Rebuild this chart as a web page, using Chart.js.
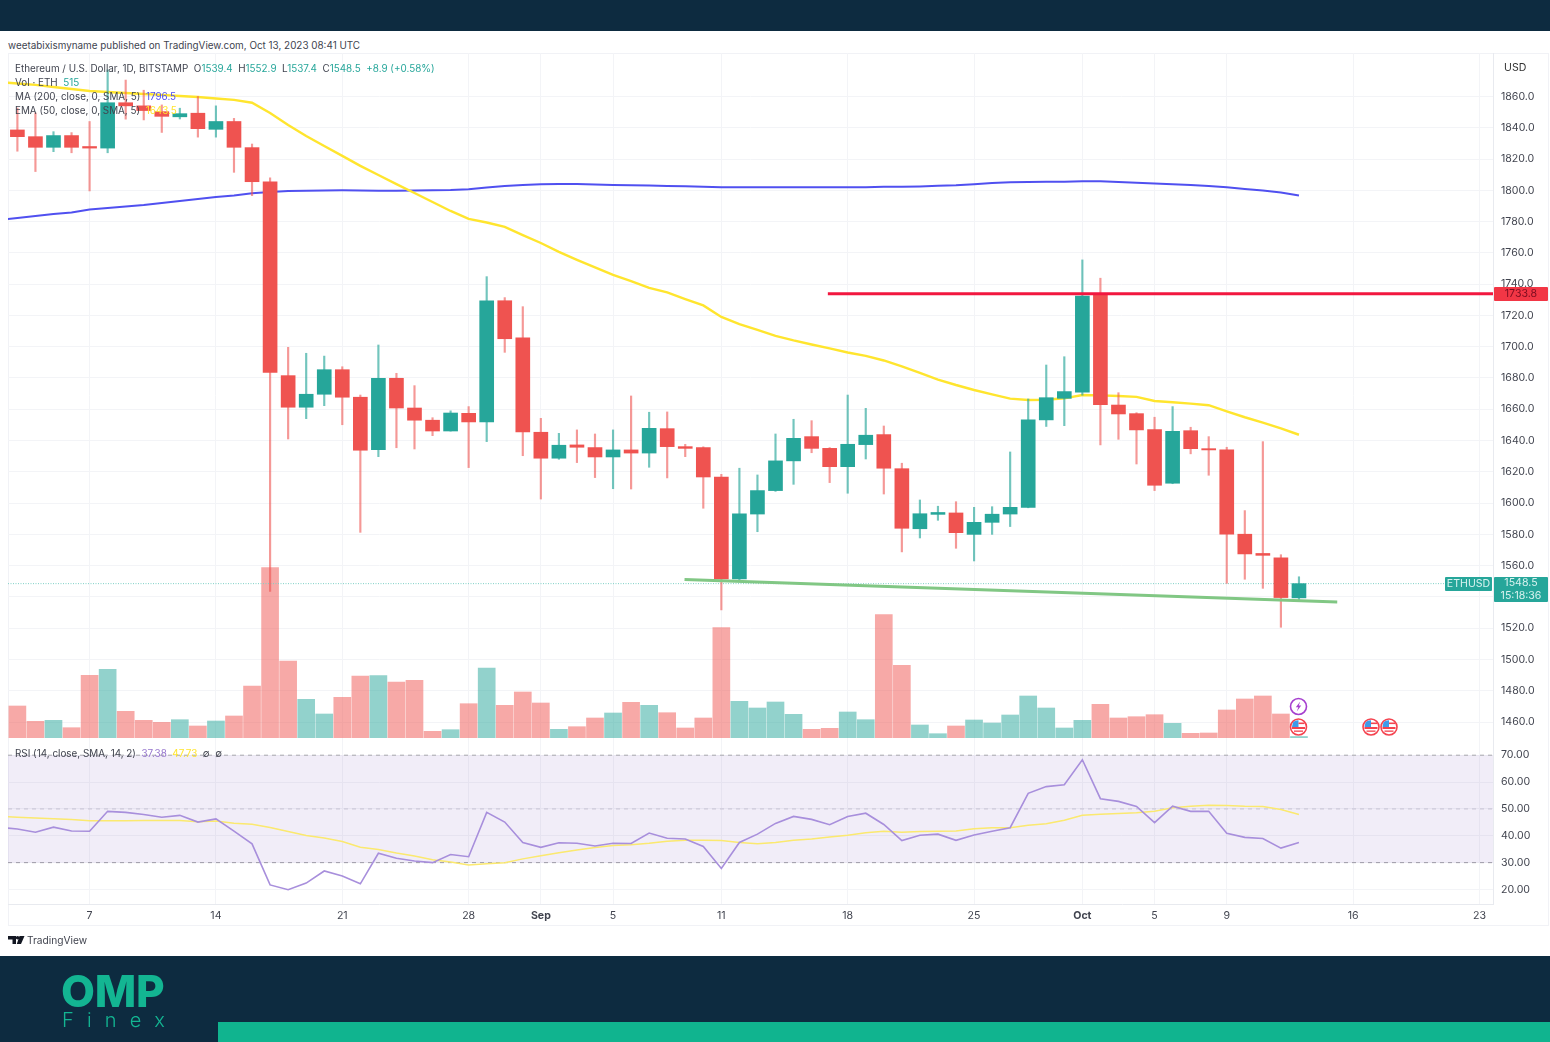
<!DOCTYPE html>
<html>
<head>
<meta charset="utf-8">
<title>ETHUSD 1D</title>
<script src="https://cdn.jsdelivr.net/npm/chart.js@4.4.1/dist/chart.umd.min.js"></script>
<style>
    html, body { margin: 0; padding: 0; background: #fff; }
    body { position: relative; width: 1550px; height: 1042px; overflow: hidden; font-family: Inter, sans-serif; color: #3a3e4a; }
    canvas { position: absolute; left: 0; }
    .abs { position: absolute; white-space: nowrap; }
    #topBar { left: 0; top: 0; width: 1550px; height: 31px; background: #0d2b40; }
    #bottomBar { left: 0; top: 956px; width: 1550px; height: 86px; background: #0d2b40; }
    #bottomGreen { left: 218px; top: 1022px; width: 1332px; height: 20px; background: #10b48f; }
    #frame { left: 8px; top: 53px; width: 1541px; height: 873px; border: 1px solid #f1f2f6; box-sizing: border-box; }
    .legend { font-size: 9.9px; line-height: 14px; left: 15px; color: #41444f; }
    .legend b { font-weight: 400; color: #26a69a; }
    .tag { font-size: 10.6px; text-align: center; border-radius: 1px; }
</style>
</head>
<body>
<div class="abs" id="frame"></div>

<canvas id="priceChart" style="top:53px"></canvas>
<canvas id="rsiChart" style="top:738px"></canvas>

<div class="abs" id="topBar"></div>
<div class="abs" id="bottomBar"></div>
<div class="abs" id="bottomGreen"></div>

<div class="abs" style="left:8px;top:38px;font-size:9.9px;line-height:14px;color:#41444f">weetabixismyname published on TradingView.com, Oct 13, 2023 08:41 UTC</div>

<div class="abs legend" style="top:61px">Ethereum / U.S. Dollar, 1D, BITSTAMP &nbsp;O<b>1539.4</b> &nbsp;H<b>1552.9</b> &nbsp;L<b>1537.4</b> &nbsp;C<b>1548.5</b> &nbsp;<b>+8.9 (+0.58%)</b></div>
<div class="abs legend" style="top:75px">Vol · ETH &nbsp;<b>515</b></div>
<div class="abs legend" style="top:89px">MA (200, close, 0, SMA, 5) &nbsp;<span style="color:#5050f0">1796.5</span></div>
<div class="abs legend" style="top:103px">EMA (50, close, 0, SMA, 5) &nbsp;<span style="color:#ffe52e">1643.5</span></div>
<div class="abs legend" style="top:746px">RSI (14, close, SMA, 14, 2) &nbsp;<span style="color:#9575cd">37.38</span> &nbsp;<span style="color:#ffe52e">47.73</span> &nbsp;∅ &nbsp;∅</div>

<div class="abs" style="left:1504px;top:61px;font-size:10.6px;line-height:14px;color:#333">USD</div>

<div class="abs tag" style="left:1494px;top:287px;width:54px;height:14px;line-height:14px;background:#f23645;color:#7d0d20">1733.8</div>
<div class="abs tag" style="left:1445px;top:577px;width:47px;height:14px;line-height:14px;background:#26a69a;color:#d8f2ef">ETHUSD</div>
<div class="abs tag" style="left:1494px;top:577px;width:54px;height:25px;line-height:12.5px;background:#26a69a;color:#d8f2ef">1548.5<br>15:18:36</div>

<!-- event markers -->
<svg class="abs" style="left:0;top:0" width="1550" height="1042" viewBox="0 0 1550 1042">
    <defs>
        <g id="usFlag">
            <circle r="8" fill="#fff" stroke="#f4434f" stroke-width="1.6"/>
            <path d="M-5.6 -4.5 A7 7 0 0 1 0 -6.8 L0 0 L-6.5 0 Z" fill="#3d9be9"/>
            <rect x="0" y="-4.5" width="6" height="1.6" fill="#f4434f"/>
            <rect x="-6.5" y="0" width="13" height="2" fill="#f4434f"/>
            <rect x="-4.5" y="3.5" width="9" height="1.3" fill="#f4434f"/>
        </g>
    </defs>
    <circle cx="1298.5" cy="706.5" r="8" fill="#fff" stroke="#a640cf" stroke-width="1.6"/>
    <path d="M1300.2 701.5 L1295.8 707.3 L1298.3 707.3 L1296.8 711.5 L1301.2 705.6 L1298.8 705.6 Z" fill="#a640cf"/>
    <use href="#usFlag" x="1298.5" y="727"/>
    <use href="#usFlag" x="1371" y="727"/>
    <use href="#usFlag" x="1389" y="727"/>
    <!-- TradingView mark -->
    <path d="M8 936 H16 V944 H12.5 V939.4 H8 Z M19.5 936 H24.5 L21 944 H16.8 Z" fill="#131722"/>
    <circle cx="17.6" cy="937.8" r="1.8" fill="#131722"/>
</svg>
<div class="abs" style="left:27px;top:933px;font-size:10.2px;line-height:14px;color:#41444f">TradingView</div>

<!-- OMP Finex logo -->
<div class="abs" style="left:61px;top:966px;font-size:44px;line-height:50px;font-weight:800;color:#13b592;letter-spacing:-0.3px">OMP</div>
<div class="abs" style="left:62px;top:1008px;font-size:20px;line-height:24px;font-weight:300;color:#13b592;letter-spacing:13.2px">Finex</div>

<script>
/* ── Dates and axis labels ─────────────────────────────── */
const dates = [
    'Aug 3','Aug 4','Aug 5','Aug 6','Aug 7','Aug 8','Aug 9','Aug 10','Aug 11','Aug 12',
    'Aug 13','Aug 14','Aug 15','Aug 16','Aug 17','Aug 18','Aug 19','Aug 20','Aug 21','Aug 22',
    'Aug 23','Aug 24','Aug 25','Aug 26','Aug 27','Aug 28','Aug 29','Aug 30','Aug 31','Sep 1',
    'Sep 2','Sep 3','Sep 4','Sep 5','Sep 6','Sep 7','Sep 8','Sep 9','Sep 10','Sep 11',
    'Sep 12','Sep 13','Sep 14','Sep 15','Sep 16','Sep 17','Sep 18','Sep 19','Sep 20','Sep 21',
    'Sep 22','Sep 23','Sep 24','Sep 25','Sep 26','Sep 27','Sep 28','Sep 29','Sep 30','Oct 1',
    'Oct 2','Oct 3','Oct 4','Oct 5','Oct 6','Oct 7','Oct 8','Oct 9','Oct 10','Oct 11','Oct 12','Oct 13',
];
const tickDays   = [4, 11, 18, 25, 29, 33, 39, 46, 53, 59, 63, 67, 74, 81];
const tickLabels = ['7', '14', '21', '28', 'Sep', '5', '11', '18', '25', 'Oct', '5', '9', '16', '23'];
const priceTicks = [1460, 1480, 1500, 1520, 1540, 1560, 1580, 1600, 1620, 1640, 1660, 1680, 1700, 1720, 1740, 1760, 1780, 1800, 1820, 1840, 1860];
const rsiTicks   = [20, 30, 40, 50, 60, 70];

/* ── Candles ───────────────────────────────────────────── */
const opens = [
    1838.6,1834.3,1827.5,1835,1828,1827,1856,1854,1850.3,1847,
    1849.3,1839,1844,1827.3,1805.5,1681.5,1661.3,1669.6,1685.3,1667.7,
    1634.2,1679.8,1660.8,1653,1646.1,1657.4,1651.9,1729.4,1705.6,1645.3,
    1628.7,1637.2,1635.5,1629.5,1634,1632,1647.6,1636.1,1635.5,1616.7,
    1551.5,1593,1608,1627,1642.5,1635,1623.3,1637.4,1643.8,1622,
    1583.6,1592.8,1593.7,1580,1587.7,1593,1597.3,1653.2,1667,1671,
    1734,1662.7,1657.2,1647,1612.7,1646.3,1634.8,1634,1580.1,1567.8,1565,1539.4,
];
const highs = [
    1852.6,1849.5,1837.5,1836.9,1844,1877,1870.5,1864,1854.6,1852.5,
    1860,1854,1846,1829.6,1808,1699.6,1695.8,1694,1687.2,1669.1,
    1701.1,1683,1675.1,1654.6,1659,1661.7,1744.8,1731.4,1725.6,1654.2,
    1644.6,1646.8,1644.2,1646.8,1668.5,1658.1,1658.3,1637.6,1636,1618.4,
    1622.3,1618,1644.2,1653.6,1652.7,1635.5,1669.1,1660.6,1649.3,1625.5,
    1602,1598,1600.9,1597.3,1597.7,1632.7,1666.6,1688.3,1693.6,1755.5,
    1743.8,1670.6,1657.8,1654.9,1661.7,1648.5,1642.5,1635.7,1595.2,1639.3,1567,1552.9,
];
const lows = [
    1825,1812,1824.7,1824,1799.6,1824,1845.5,1845,1837,1845.6,
    1834,1834,1811.5,1796.6,1543.5,1641,1654,1662.3,1650.1,1581.3,
    1629.7,1635.4,1634.6,1643.1,1646,1622.7,1639.3,1696.4,1630.3,1602.6,
    1628,1625.9,1616.3,1609.2,1609,1622.9,1616.1,1629.7,1596.7,1531.7,
    1551,1581.7,1607.5,1612,1632.2,1613.1,1606.3,1628.2,1605.8,1568.8,
    1577.7,1589,1571.1,1563,1580,1585,1597,1649,1649.5,1669,
    1637.2,1640.8,1625,1608,1612.4,1631.5,1617.8,1548.7,1551.3,1545.5,1520.6,1537.4,
];
const closes = [
    1834.3,1827.5,1835,1827.5,1827,1856,1854,1851,1847.3,1849,
    1839.4,1844,1827.5,1805.5,1683.6,1661.3,1669.6,1685.3,1667.7,1633.8,
    1679.8,1660.8,1653,1646.1,1657.6,1651.9,1729.4,1705.1,1645.5,1628.7,
    1637,1635.7,1629.5,1634,1632,1647.8,1636.1,1635,1616.7,1551.5,
    1593.2,1608,1627,1641.4,1635,1623.3,1637.6,1643.4,1622.3,1583.9,
    1593.2,1594,1581.1,1587.7,1592.9,1597.3,1653.2,1667.4,1671.3,1732.4,
    1663,1657,1646.8,1611.4,1645.9,1634.8,1634,1580.1,1567.5,1566.6,1539.6,1548.5,
];

/* Volume, relative height of each bar */
const volumes = [
    32,16.7,17.7,10.3,62.7,68.7,26.7,17.7,15.7,18.3,
    12,17,22,52,170.3,77,38.7,24,40.7,62,
    62.3,56,57.7,6.7,8.3,34.3,70,32.7,46,35,
    8.7,11.3,20,25,35.7,32.7,25.3,10,20,110.3,
    36.7,30,36,23.7,8.7,9.7,26,18.3,123.3,72.7,
    13,4.3,12,18,15,23,42,30,10,17.7,
    33.7,20,21.3,23.3,14.7,4.7,5,28,39,42,24,1.5,
];

/* ── Moving averages, first value is the day before the first candle ── */
const ma200 = [
    1781,1782.3,1783.6,1784.9,1785.8,1787.7,1788.7,1789.7,1790.6,1791.9,1793.2,
    1794.5,1795.7,1796.7,1798.1,1798.9,1799.6,1799.8,1799.9,1800,1799.9,
    1799.8,1799.8,1799.9,1800,1800.2,1800.7,1801.8,1802.8,1803.4,1803.9,
    1804,1804,1803.7,1803.4,1803.2,1803.1,1802.8,1802.6,1802.3,1802,
    1802,1801.9,1801.9,1802,1802,1802,1802,1802,1802.2,1802.3,
    1802.5,1802.9,1803.2,1803.9,1804.7,1805.1,1805.3,1805.5,1805.5,1805.8,
    1805.8,1805.3,1804.8,1804.4,1803.9,1803.4,1802.8,1802,1800.9,1799.9,1798.6,1796.7,
];
const ema50 = [
    1869.3,1868.3,1867.4,1866.1,1864.8,1863.5,1862.9,1862.2,1861.6,1861,1860.3,
    1859.7,1858.7,1857.8,1856,1849.4,1841.8,1834.7,1828.3,1822,1815.6,
    1809.8,1804,1798.3,1792.5,1786.8,1781.7,1779.4,1776.6,1771.4,1766.3,
    1760.6,1755.5,1750.7,1745.9,1742,1737.6,1734.7,1730.5,1726.4,1719,
    1714.5,1710.7,1706.9,1704,1701.4,1698.9,1696.3,1694.1,1691.2,1687.4,
    1683.2,1679,1675.5,1672.3,1669.5,1666.8,1665.9,1666.1,1667,1669.1,
    1668.9,1668.5,1667.9,1665.3,1664.5,1663.6,1662.6,1658.7,1654.9,1651.4,1647.8,1643.7,
];

/* ── RSI pane ──────────────────────────────────────────── */
const rsi = [
    43.2,42.5,41.3,43.2,41.8,41.7,49.1,48.7,47.9,46.9,47.6,
    45.1,46.3,41.7,37,21.7,19.9,22.4,26.9,25,22.1,
    33.5,31.6,30.6,30,33,32.2,48.7,45.1,37.5,35.7,
    37.4,37.2,36.2,37.2,37.1,41,39.1,38.8,36,27.8,
    37.5,40.6,44.6,47.2,46.1,44.1,47.2,48.4,44.2,38.2,
    40.2,40.6,38.3,40.3,41.7,43,55.8,58.3,59,68.3,
    53.8,52.8,50.9,44.9,51,49.1,49.1,40.9,39.4,39,35.4,37.5,
];
const rsiSma = [
    47.3,46.9,46.6,46.3,46.1,45.6,45.6,45.6,45.7,45.7,45.7,
    45.2,45.5,44.7,44.3,43.1,41.6,40.1,39.2,37.9,35.7,
    34.9,33.6,32.5,31.1,30.2,29.1,29.6,30,31.4,32.6,
    33.7,34.7,35.6,36.4,36.7,37.2,38,38.3,38.3,38.2,
    37.5,37,37.5,38.3,38.8,39.5,40.2,41.1,41.7,41.3,
    41.6,41.7,41.8,42.6,43,43,43.9,44.5,45.75,47.6,
    48,48.25,48.6,49.1,50.4,51,51.4,51.25,51,50.9,49.75,47.9,
];

/* ── Drawn trend lines and levels ──────────────────────── */
const resistanceDays   = [44.9, 81.75];
const resistancePrices = [1733.8, 1733.8];
const supportDays      = [36.96, 73.12];
const supportPrices    = [1551.2, 1536.8];
const lastPrice        = 1548.5;

/* ── Shared defaults ───────────────────────────────────── */
const UP        = '#26a69a';
const DOWN      = '#ef5350';
const X_MIN     = -0.52;
const X_MAX     = 81.75;
const AXIS_LINE = '#e8eaef';
const GRID      = '#f3f4f7';
const TICK_FONT = { family: 'Inter', size: 10.6 };

const xy = (xs, ys) => xs.map((x, i) => ({ x, y: ys[i] }));
const fromDayBefore = ys => ys.map((y, i) => ({ x: i - 1, y }));
const isUp = dates.map((d, i) => closes[i] >= opens[i]);
const span = [X_MIN, X_MAX];

Chart.defaults.animation = false;
Chart.defaults.responsive = false;
Chart.defaults.devicePixelRatio = 1;

function xAxis(showLabels) {
    return {
        type : 'linear',
        min  : X_MIN,
        max  : X_MAX,
        offset : false,
        afterBuildTicks : s => { s.ticks = tickDays.map(v => ({ value: v })); },
        afterFit : s => {
            s.height = showLabels ? 22 : 0;
            s.paddingLeft = s.paddingRight = 0;
        },
        grid   : { color: GRID, drawTicks: false, offset: false },
        border : { color: AXIS_LINE },
        ticks  : {
            display     : showLabels,
            autoSkip    : false,
            maxRotation : 0,
            padding     : 5,
            color       : '#41444f',
            font        : ctx => ({ ...TICK_FONT, weight: ['Sep', 'Oct'].includes(tickLabels[ctx.index]) ? 700 : 400 }),
            callback    : v => tickLabels[tickDays.indexOf(v)],
        },
    };
}

function yAxis(min, max, ticks, digits) {
    return {
        position : 'right',
        min, max,
        afterBuildTicks : s => { s.ticks = ticks.map(v => ({ value: v })); },
        afterFit : s => {
            s.width = 57;
            s.paddingTop = s.paddingBottom = 0;
        },
        grid   : { color: GRID, drawTicks: false },
        border : { color: AXIS_LINE },
        ticks  : {
            padding  : 8,
            color    : '#41444f',
            font     : TICK_FONT,
            callback : v => v.toFixed(digits),
        },
    };
}

const PLUGINS = { legend: { display: false }, tooltip: { enabled: false } };

/* ── Price pane: volume, averages, candles, trend lines ── */
const priceEl = document.getElementById('priceChart');
priceEl.width  = 1550;
priceEl.height = 685;

new Chart(priceEl, {
    data : {
        datasets : [
            {
                type            : 'bar',
                yAxisID         : 'yVol',
                grouped         : false,
                order           : 9,
                barThickness    : 17,
                data            : xy(dates.map((d, i) => i), volumes),
                backgroundColor : isUp.map(u => u ? 'rgba(38,166,154,0.5)' : 'rgba(239,83,80,0.5)'),
            },
            {
                type        : 'line',
                order       : 8,
                data        : xy(span, [lastPrice, lastPrice]),
                borderColor : '#7fd0c6',
                borderWidth : 1,
                borderDash  : [1, 1.5],
                pointRadius : 0,
            },
            {
                type        : 'line',
                order       : 7,
                data        : fromDayBefore(ma200),
                borderColor : '#5050f0',
                borderWidth : 2,
                pointRadius : 0,
            },
            {
                type        : 'line',
                order       : 6,
                data        : fromDayBefore(ema50),
                borderColor : '#ffe52e',
                borderWidth : 2.4,
                pointRadius : 0,
            },
            {
                type            : 'bar',
                grouped         : false,
                order           : 5,
                barThickness    : 1.5,
                data            : dates.map((d, i) => ({ x: i, y: [lows[i], highs[i]] })),
                backgroundColor : isUp.map(u => u ? 'rgba(38,166,154,0.65)' : 'rgba(239,83,80,0.6)'),
            },
            {
                type            : 'bar',
                grouped         : false,
                order           : 4,
                barThickness    : 14,
                data            : dates.map((d, i) => ({ x: i, y: [opens[i], closes[i]] })),
                backgroundColor : isUp.map(u => u ? UP : DOWN),
            },
            {
                type        : 'line',
                order       : 2,
                data        : xy(supportDays, supportPrices),
                borderColor : '#81c784',
                borderWidth : 3,
                pointRadius : 0,
            },
            {
                type        : 'line',
                order       : 1,
                data        : xy(resistanceDays, resistancePrices),
                borderColor : '#f2173f',
                borderWidth : 3,
                pointRadius : 0,
            },
        ],
    },
    options : {
        parsing : true,
        layout  : { padding: { left: 8, right: 0, top: 0, bottom: 0 } },
        plugins : PLUGINS,
        scales  : {
            x    : xAxis(false),
            y    : yAxis(1449.8, 1887.8, priceTicks, 1),
            yVol : { display: false, min: 0, max: 685 },
        },
    },
});

/* ── RSI pane ──────────────────────────────────────────── */
const rsiEl = document.getElementById('rsiChart');
rsiEl.width  = 1550;
rsiEl.height = 188;

const bandLevel = (level, color, fill) => ({
    type        : 'line',
    order       : 5,
    data        : xy(span, [level, level]),
    borderColor : color,
    borderWidth : 1,
    borderDash  : [4, 4],
    pointRadius : 0,
    fill,
    backgroundColor : 'rgba(126,87,194,0.11)',
});

new Chart(rsiEl, {
    data : {
        datasets : [
            bandLevel(70, '#a9a9ad', '+1'),
            bandLevel(30, '#a0a0a5', false),
            bandLevel(50, '#cfcfd4', false),
            {
                type        : 'line',
                order       : 2,
                data        : fromDayBefore(rsiSma),
                borderColor : '#fbe96f',
                borderWidth : 1.5,
                pointRadius : 0,
            },
            {
                type        : 'line',
                order       : 1,
                data        : fromDayBefore(rsi),
                borderColor : '#a88fdc',
                borderWidth : 1.6,
                pointRadius : 0,
            },
        ],
    },
    options : {
        layout  : { padding: { left: 8, right: 0, top: 0, bottom: 0 } },
        plugins : PLUGINS,
        scales  : {
            x : xAxis(true),
            y : yAxis(14.6, 76.4, rsiTicks, 2),
        },
    },
});
</script>
</body>
</html>
